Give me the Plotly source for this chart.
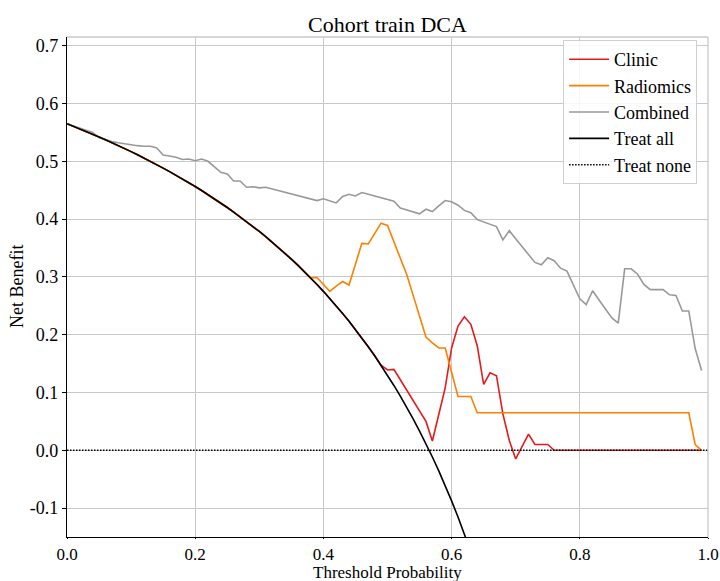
import numpy as np
import plotly.graph_objects as go

# Threshold grid (0.00 .. 0.99, step 0.01)
thresholds = np.round(np.arange(0, 1.0, 0.01), 2)

# Treat all net benefit, thresholds 0.00 .. 0.63 (goes below the axis after ~0.62)
treat_all = [0.565, 0.5606, 0.5561, 0.5515, 0.5469, 0.5421, 0.5372, 0.5323, 0.5272, 0.5220,
             0.5167, 0.5112, 0.5057, 0.5000, 0.4942, 0.4882, 0.4821, 0.4759, 0.4695, 0.4630,
             0.4563, 0.4494, 0.4423, 0.4351, 0.4276, 0.4200, 0.4122, 0.4041, 0.3958, 0.3873,
             0.3786, 0.3696, 0.3603, 0.3507, 0.3409, 0.3308, 0.3203, 0.3095, 0.2984, 0.2869,
             0.2750, 0.2627, 0.2500, 0.2368, 0.2232, 0.2091, 0.1944, 0.1792, 0.1635, 0.1471,
             0.1300, 0.1122, 0.0938, 0.0745, 0.0543, 0.0333, 0.0114, -0.0116, -0.0357, -0.0610,
             -0.0875, -0.1154, -0.1447, -0.1757]

# Clinic: follows treat all up to 0.49, then these values for 0.50 .. 0.99
clinic_tail = [0.139, 0.140, 0.122, 0.104, 0.086, 0.068, 0.050, 0.016, 0.062, 0.108,
               0.177, 0.215, 0.231, 0.218, 0.181, 0.114, 0.134, 0.129, 0.063, 0.017,
               -0.015, 0.007, 0.028, 0.010, 0.010, 0.010,
               0.0, 0.0, 0.0, 0.0, 0.0, 0.0, 0.0, 0.0, 0.0, 0.0, 0.0, 0.0,
               0.0, 0.0, 0.0, 0.0, 0.0, 0.0, 0.0, 0.0, 0.0, 0.0, 0.0, 0.0]

# Radiomics: follows treat all up to 0.38, then these values for 0.39 .. 0.99
radiomics_tail = [0.299, 0.287, 0.275, 0.284, 0.292, 0.286, 0.322, 0.358, 0.357, 0.375,
                  0.393, 0.389, 0.361, 0.332, 0.304, 0.268, 0.232, 0.196, 0.186, 0.177,
                  0.177, 0.135, 0.093, 0.093, 0.093,
                  0.065, 0.065, 0.065, 0.065, 0.065, 0.065, 0.065, 0.065, 0.065, 0.065,
                  0.065, 0.065, 0.065, 0.065, 0.065, 0.065, 0.065, 0.065, 0.065, 0.065,
                  0.065, 0.065, 0.065, 0.065, 0.065, 0.065, 0.065, 0.065, 0.065, 0.065,
                  0.065, 0.065, 0.065, 0.065,
                  0.010, 0.0]

# Combined: thresholds 0.00 .. 0.99
combined = [0.565, 0.561, 0.557, 0.554, 0.550, 0.541, 0.537, 0.534, 0.532, 0.530,
            0.528, 0.527, 0.526, 0.526, 0.523, 0.511, 0.509, 0.507, 0.503, 0.504,
            0.501, 0.504, 0.500, 0.491, 0.481, 0.478, 0.466, 0.466, 0.455, 0.456,
            0.454, 0.455, 0.452, 0.449, 0.446, 0.443, 0.441, 0.438, 0.435, 0.432,
            0.435, 0.432, 0.428, 0.439, 0.443, 0.440, 0.446, 0.443, 0.440, 0.437,
            0.434, 0.431, 0.419, 0.416, 0.412, 0.409, 0.417, 0.413, 0.423, 0.432,
            0.430, 0.424, 0.415, 0.411, 0.399, 0.395, 0.391, 0.387, 0.364, 0.380,
            0.366, 0.352, 0.339, 0.325, 0.321, 0.333, 0.328, 0.315, 0.310, 0.286,
            0.262, 0.252, 0.276, 0.260, 0.245, 0.229, 0.220, 0.314, 0.314, 0.305,
            0.287, 0.278, 0.278, 0.278, 0.269, 0.268, 0.241, 0.241, 0.176, 0.138]

treat_none = [0.0, 0.0]
treat_none_x = [0.0, 1.0]

clinic = treat_all[:50] + clinic_tail
radiomics = treat_all[:39] + radiomics_tail

x_ticks = [0.0, 0.2, 0.4, 0.6, 0.8, 1.0]
x_ticktext = ["0.0", "0.2", "0.4", "0.6", "0.8", "1.0"]
y_ticks = [-0.1, 0.0, 0.1, 0.2, 0.3, 0.4, 0.5, 0.6, 0.7]
y_ticktext = ["-0.1", "0.0", "0.1", "0.2", "0.3", "0.4", "0.5", "0.6", "0.7"]

FONT = "Liberation Serif, Times New Roman, serif"

fig = go.Figure()
fig.add_trace(go.Scatter(x=thresholds, y=clinic, mode="lines", name="Clinic",
                         line=dict(color="#e41a1c", width=1.6)))
fig.add_trace(go.Scatter(x=thresholds, y=radiomics, mode="lines", name="Radiomics",
                         line=dict(color="#ff7f00", width=1.6)))
fig.add_trace(go.Scatter(x=thresholds, y=combined, mode="lines", name="Combined",
                         line=dict(color="#999999", width=1.6)))
fig.add_trace(go.Scatter(x=thresholds[:len(treat_all)], y=treat_all, mode="lines", name="Treat all",
                         line=dict(color="black", width=1.6)))
fig.add_trace(go.Scatter(x=treat_none_x, y=treat_none, mode="lines", name="Treat none",
                         line=dict(color="black", width=1.5, dash="1.5px,1.5px")))

grid = "#c8c8c8"
fig.update_layout(
    width=720, height=581,
    margin=dict(l=67, r=12, t=37, b=44, autoexpand=False),
    paper_bgcolor="white", plot_bgcolor="white",
    font=dict(family=FONT, size=18, color="black"),
    title=dict(text="Cohort train DCA", x=0.5, xref="paper", xanchor="center",
               y=1 - 24 / 581, yref="container", yanchor="middle",
               font=dict(family=FONT, size=22, color="black")),
    showlegend=True,
    legend=dict(x=0.983, xanchor="right", y=0.994, yanchor="top", itemwidth=40,
                bgcolor="rgba(255,255,255,0.85)", bordercolor="#d0d0d0", borderwidth=1,
                font=dict(family=FONT, size=18, color="black")),
    xaxis=dict(range=[0, 1], tickvals=x_ticks, ticktext=x_ticktext, automargin=False,
               showgrid=True, gridcolor=grid, gridwidth=1, zeroline=False,
               showline=True, linecolor="black", linewidth=1.3,
               ticks="outside", ticklen=1, tickcolor="black", tickwidth=1,
               tickfont=dict(family=FONT, size=17, color="black")),
    yaxis=dict(range=[-0.15, 0.715], tickvals=y_ticks, ticktext=y_ticktext, automargin=False,
               showgrid=True, gridcolor=grid, gridwidth=1, zeroline=False,
               showline=True, linecolor="black", linewidth=1.3,
               ticks="outside", ticklen=4, tickcolor="black", tickwidth=1),
    shapes=[
        dict(type="line", xref="paper", yref="paper", x0=0, x1=1, y0=1, y1=1,
             line=dict(color=grid, width=1.3)),
        dict(type="line", xref="paper", yref="paper", x0=1, x1=1, y0=0, y1=1,
             line=dict(color=grid, width=1.3)),
    ],
    annotations=[
        dict(text="Threshold Probability", xref="paper", yref="paper", x=0.5,
             y=-(572 - 536.7) / 500, xanchor="center", yanchor="middle", showarrow=False,
             borderpad=0, font=dict(family=FONT, size=17, color="black")),
        dict(text="Net Benefit", xref="paper", yref="paper", x=(17 - 67) / 641, y=0.5,
             xanchor="center", yanchor="middle", textangle=-90, showarrow=False,
             font=dict(family=FONT, size=18, color="black")),
    ],
)

fig.write_html("out.html")
